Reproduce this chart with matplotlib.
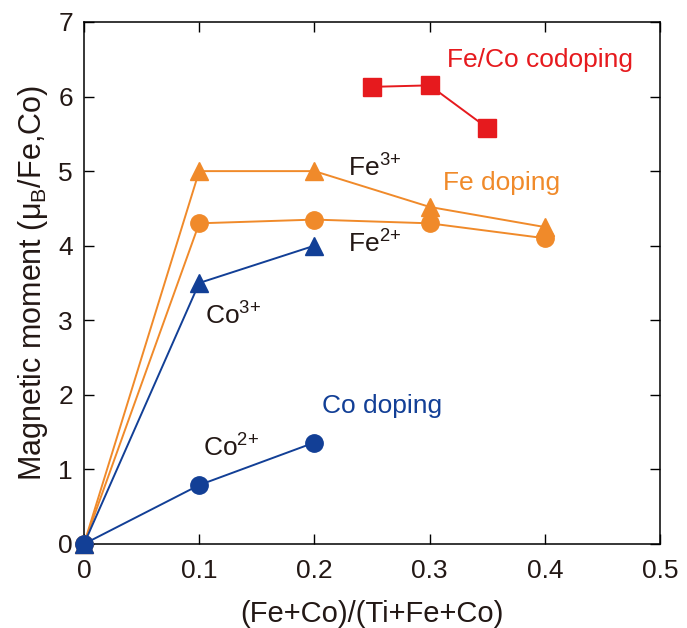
import matplotlib
matplotlib.use('Agg')
import matplotlib.pyplot as plt

plt.rcParams['font.family'] = ['Liberation Sans', 'DejaVu Sans']
plt.rcParams['mathtext.fontset'] = 'custom'
plt.rcParams['mathtext.rm'] = 'Liberation Sans'
plt.rcParams['mathtext.it'] = 'Liberation Sans:italic'

orange = '#F08A2A'
blue = '#123F96'
red = '#E61A1E'
dark = '#231815'

# Fe doping
fe_x = [0, 0.1, 0.2, 0.3, 0.4]
fe3_y = [0, 5.0, 5.0, 4.52, 4.25]
fe2_y = [0, 4.3, 4.35, 4.3, 4.1]

# Co doping
co_x = [0, 0.1, 0.2]
co3_y = [0, 3.5, 4.0]
co2_y = [0, 0.79, 1.36]

# Fe/Co codoping
feco_x = [0.25, 0.3, 0.35]
feco_y = [6.13, 6.15, 5.58]

xticks = [0, 0.1, 0.2, 0.3, 0.4, 0.5]
xticklabels = ['0', '0.1', '0.2', '0.3', '0.4', '0.5']
yticks = [0, 1, 2, 3, 4, 5, 6, 7]

fig = plt.figure(figsize=(6.87, 6.28), dpi=100)
ax = fig.add_axes([0.1223, 0.1338, 0.8384, 0.8312])

lw = 1.4
ax.plot(fe_x, fe3_y, color=orange, lw=lw, marker='^', ms=13, clip_on=False, zorder=3)
ax.plot(fe_x, fe2_y, color=orange, lw=lw, marker='o', ms=12.5, clip_on=False, zorder=3)
ax.plot(co_x, co3_y, color=blue, lw=lw, marker='^', ms=13, clip_on=False, zorder=4)
ax.plot(co_x, co2_y, color=blue, lw=lw, marker='o', ms=12.5, clip_on=False, zorder=5)
ax.plot(feco_x, feco_y, color=red, lw=lw, marker='s', ms=13, clip_on=False, zorder=3)

fs = 19
ax.text(0.229, 4.92, 'Fe$^{\\mathrm{3{+}}}$', fontsize=fs, color=dark, va='baseline')
ax.text(0.229, 3.91, 'Fe$^{\\mathrm{2{+}}}$', fontsize=fs, color=dark, va='baseline')
ax.text(0.105, 2.94, 'Co$^{\\mathrm{3{+}}}$', fontsize=fs, color=dark, va='baseline')
ax.text(0.103, 1.17, 'Co$^{\\mathrm{2{+}}}$', fontsize=fs, color=dark, va='baseline')
ax.text(0.2066, 1.76, 'Co doping', fontsize=fs, color=blue, va='baseline')
ax.text(0.3116, 4.75, 'Fe doping', fontsize=fs, color=orange, va='baseline')
ax.text(0.315, 6.39, 'Fe/Co codoping', fontsize=fs, color=red, va='baseline')

ax.set_xlim(0, 0.5)
ax.set_ylim(0, 7)
ax.set_xticks(xticks)
ax.set_xticklabels(xticklabels)
ax.set_yticks(yticks)
ax.tick_params(direction='in', length=7, width=1, labelsize=19,
               top=True, right=True, pad=8, labelcolor=dark)
ax.tick_params(axis='x', pad=11)
for s in ax.spines.values():
    s.set_linewidth(1.1)

ax.set_xlabel('(Fe+Co)/(Ti+Fe+Co)', fontsize=21, labelpad=12, color=dark)
ax.set_ylabel('Magnetic moment (μ$_{\\mathrm{B}}$/Fe,Co)', fontsize=22, labelpad=6, color=dark)

fig.savefig('out.png', dpi=100)
